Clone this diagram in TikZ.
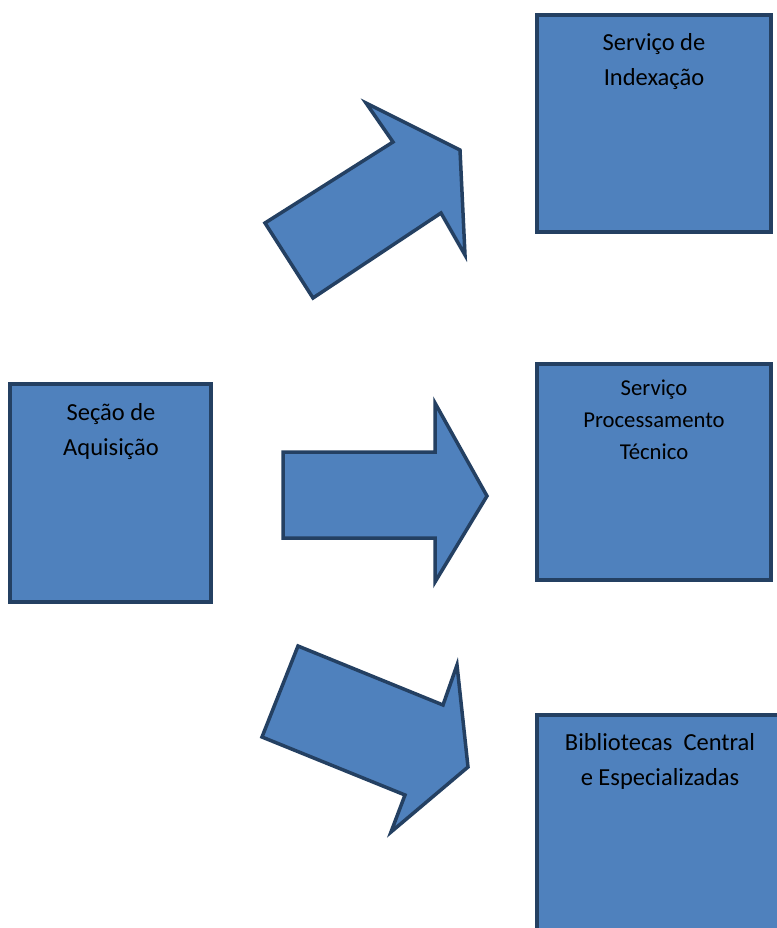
\documentclass[tikz,border=0pt]{standalone}
\usepackage{fontspec}
\setmainfont{Carlito}
\definecolor{fillblue}{RGB}{79,129,189}
\definecolor{edgeblue}{RGB}{36,64,98}
\begin{document}
\begin{tikzpicture}[x=1pt,y=-1pt,
  box/.style={draw=edgeblue, fill=fillblue, line width=3.5pt, line join=miter, inner sep=0pt, outer sep=0pt},
  blockarrow/.style={draw=edgeblue, fill=fillblue, line width=3.5pt, line join=miter, miter limit=6},
  caption/.style={align=center, anchor=north, inner sep=0pt, text=black},
  bigtext/.style={font=\fontsize{24.5}{35}\selectfont},
  smalltext/.style={font=\fontsize{22.7}{32}\selectfont}]

% page area
\fill[white] (0,0) rectangle (776,928);
\useasboundingbox (0,0) rectangle (776,928);

% boxes
\node[box, minimum width=201pt, minimum height=218pt, anchor=north west] (aquis) at (10,384) {};
\node[box, minimum width=234pt, minimum height=217pt, anchor=north west] (index) at (537,15) {};
\node[box, minimum width=234pt, minimum height=216pt, anchor=north west] (proc) at (537,364) {};
\node[box, minimum width=246pt, minimum height=225pt, anchor=north west] (bibl) at (537,715) {};

% captions
\node[caption, bigtext] (aquislbl) at (111,395.5) {\strut Seção de\\Aquisição};
\node[caption, bigtext] (indexlbl) at (654,25.5) {\strut Serviço de\\Indexação};
\node[caption, smalltext] (proclbl) at (654,372.6) {\strut Serviço\\Processamento\\Técnico};
\node[caption, bigtext] (bibllbl) at (660,725.5) {\strut Bibliotecas\ \ Central\\e Especializadas};

% block arrows
\draw[blockarrow] (265,223) -- (393,142) -- (366,103) -- (460,150)
  -- (465,255) -- (441,213) -- (313,298) -- cycle;
\draw[blockarrow] (283,452) -- (435,452) -- (435,403) -- (487,496)
  -- (435,582) -- (435,538) -- (283,538) -- cycle;
\draw[blockarrow] (298,646) -- (443,705) -- (457,665) -- (468,767)
  -- (391,832) -- (405,795) -- (262,737) -- cycle;
\end{tikzpicture}
\end{document}
